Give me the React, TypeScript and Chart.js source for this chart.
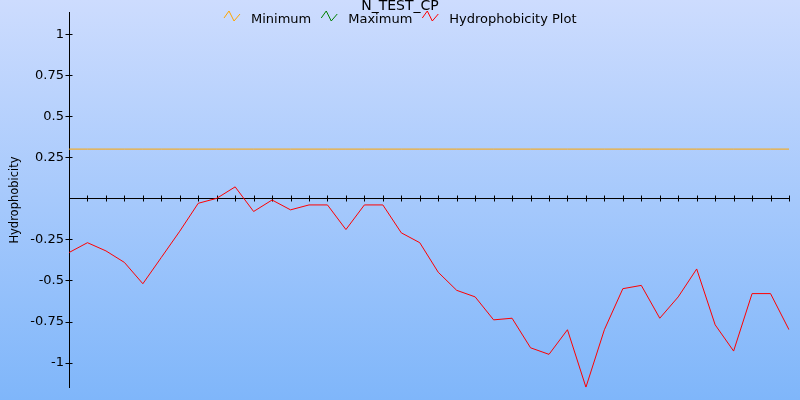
import React, { useEffect, useRef } from "react";
import { Chart, registerables } from "chart.js";

Chart.register(...registerables);

const chartTitle = "N_TEST_CP";
const yAxisTitle = "Hydrophobicity";

const positions = [
  "1", "2", "3", "4", "5", "6", "7", "8", "9", "10",
  "11", "12", "13", "14", "15", "16", "17", "18", "19", "20",
  "21", "22", "23", "24", "25", "26", "27", "28", "29", "30",
  "31", "32", "33", "34", "35", "36", "37", "38", "39", "40",
];

const hydrophobicity = [
  -0.33, -0.27, -0.32, -0.39, -0.52, -0.36, -0.2, -0.03, 0.0, 0.07,
  -0.08, -0.01, -0.07, -0.04, -0.04, -0.19, -0.04, -0.04, -0.21, -0.27,
  -0.45, -0.56, -0.6, -0.74, -0.73, -0.91, -0.95, -0.8, -1.15, -0.8,
  -0.55, -0.53, -0.73, -0.6, -0.43, -0.77, -0.93, -0.58, -0.58, -0.8,
];

const minimumValues = [
  0.3, 0.3, 0.3, 0.3, 0.3, 0.3, 0.3, 0.3, 0.3, 0.3,
  0.3, 0.3, 0.3, 0.3, 0.3, 0.3, 0.3, 0.3, 0.3, 0.3,
  0.3, 0.3, 0.3, 0.3, 0.3, 0.3, 0.3, 0.3, 0.3, 0.3,
  0.3, 0.3, 0.3, 0.3, 0.3, 0.3, 0.3, 0.3, 0.3, 0.3,
];

// No maximum line is visible in the chart.
const maximumValues: number[] = [];

const yTickValues = [1, 0.75, 0.5, 0.25, -0.25, -0.5, -0.75, -1];
const yTickLabels = ["1", "0.75", "0.5", "0.25", "-0.25", "-0.5", "-0.75", "-1"];

const FONT = '"DejaVu Sans", Verdana, sans-serif';

const backgroundPlugin = {
  id: "bgGradient",
  beforeDraw(chart: any) {
    const { ctx, width, height } = chart;
    const g = ctx.createLinearGradient(0, 0, 0, height);
    g.addColorStop(0, "#cddcfe");
    g.addColorStop(1, "#7fb6fa");
    ctx.save();
    ctx.fillStyle = g;
    ctx.fillRect(0, 0, width, height);
    ctx.restore();
  },
};

const axesPlugin = {
  id: "crossAxes",
  beforeDatasetsDraw(chart: any) {
    const { ctx, chartArea } = chart;
    const xs = chart.scales.x;
    const ys = chart.scales.y;
    const y0 = Math.round(ys.getPixelForValue(0)) + 0.5;
    ctx.save();
    ctx.strokeStyle = "#000";
    ctx.lineWidth = 1;
    ctx.beginPath();
    ctx.moveTo(chartArea.left, y0);
    ctx.lineTo(chartArea.right, y0);
    for (let i = 0; i < xs.ticks.length; i++) {
      const px = Math.round(xs.getPixelForTick(i)) + 0.5;
      ctx.moveTo(px, y0 - 3);
      ctx.lineTo(px, y0 + 3);
    }
    const left = Math.round(chartArea.left) + 0.5;
    for (const t of ys.ticks) {
      const py = Math.round(ys.getPixelForValue(t.value)) + 0.5;
      ctx.moveTo(left - 4, py);
      ctx.lineTo(left + 3, py);
    }
    ctx.stroke();
    ctx.restore();
  },
};

const headerPlugin = {
  id: "header",
  afterDraw(chart: any) {
    const { ctx, width } = chart;
    ctx.save();
    ctx.fillStyle = "#000";
    ctx.textBaseline = "alphabetic";
    ctx.font = `14px ${FONT}`;
    ctx.textAlign = "center";
    ctx.fillText(chartTitle, width / 2, 9.5);

    ctx.font = `13px ${FONT}`;
    ctx.textAlign = "left";
    const items = chart.data.datasets.map((d: any) => ({
      label: d.label,
      color: d.borderColor,
      w: ctx.measureText(d.label).width,
    }));
    const iconW = 16;
    const gapText = 11;
    const gapItem = 10;
    let total = 0;
    items.forEach((it: any, i: number) => {
      total += iconW + gapText + it.w + (i < items.length - 1 ? gapItem : 0);
    });
    let x = Math.round(width / 2 - total / 2);
    const top = 11;
    items.forEach((it: any) => {
      ctx.strokeStyle = it.color;
      ctx.lineWidth = 1;
      ctx.beginPath();
      ctx.moveTo(x, top + 7);
      ctx.lineTo(x + 5, top);
      ctx.lineTo(x + 10, top + 10);
      ctx.lineTo(x + 16, top + 3);
      ctx.stroke();
      ctx.fillStyle = "#000";
      ctx.fillText(it.label, x + iconW + gapText, 23);
      x += iconW + gapText + it.w + gapItem;
    });
    ctx.restore();
  },
};

export default function App() {
  const ref = useRef<HTMLCanvasElement | null>(null);

  useEffect(() => {
    if (!ref.current) return;
    const chart = new Chart(ref.current, {
      type: "line",
      data: {
        labels: positions,
        datasets: [
          {
            label: "Minimum",
            data: minimumValues,
            borderColor: "#ffa500",
            borderWidth: 1,
            pointRadius: 0,
            tension: 0,
          },
          {
            label: "Maximum",
            data: maximumValues,
            borderColor: "#008000",
            borderWidth: 1,
            pointRadius: 0,
            tension: 0,
          },
          {
            label: "Hydrophobicity Plot",
            data: hydrophobicity,
            borderColor: "#ff0000",
            borderWidth: 1,
            pointRadius: 0,
            tension: 0,
          },
        ],
      },
      options: {
        responsive: false,
        animation: false,
        layout: { padding: { top: 10, right: 11, bottom: 11, left: 0 } },
        plugins: {
          legend: { display: false },
          title: { display: false },
          tooltip: { enabled: false },
        },
        scales: {
          x: {
            display: false,
            offset: false,
          },
          y: {
            min: -1.15,
            max: 1.13,
            afterFit: (scale: any) => {
              scale.width = 69;
            },
            afterBuildTicks: (scale: any) => {
              scale.ticks = yTickValues.map((v) => ({ value: v }));
            },
            ticks: {
              autoSkip: false,
              padding: 5,
              color: "#000",
              font: { family: FONT, size: 13 },
              callback: (v: any) => {
                const idx = yTickValues.indexOf(Number(v));
                return idx >= 0 ? yTickLabels[idx] : "";
              },
            },
            grid: { display: false, drawTicks: false },
            border: { display: true, color: "#000", width: 1 },
            title: {
              display: true,
              text: yAxisTitle,
              color: "#000",
              font: { family: FONT, size: 11.5 },
              padding: { top: 8, bottom: 0 },
            },
          },
        },
      },
      plugins: [backgroundPlugin, axesPlugin, headerPlugin],
    });
    return () => chart.destroy();
  }, []);

  return (
    <div style={{ position: "absolute", left: 0, top: 0, width: 800, height: 400 }}>
      <canvas ref={ref} width={800} height={400} style={{ display: "block" }} />
    </div>
  );
}
